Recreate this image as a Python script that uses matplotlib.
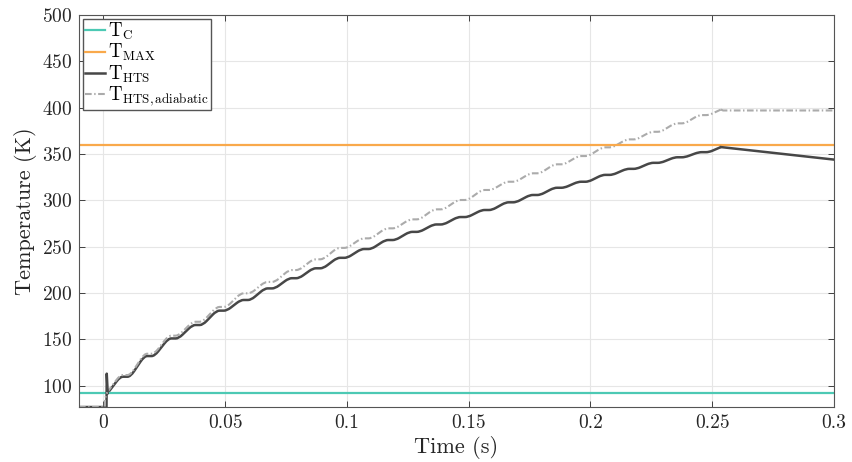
import matplotlib
matplotlib.use("Agg")
import matplotlib.pyplot as plt
from matplotlib.path import Path
from matplotlib.patches import PathPatch
from matplotlib.lines import Line2D

# plateau centres of the stepped heating (s) and temperature on each plateau (K)
t_steps = [0.009, 0.0189, 0.0288, 0.0387, 0.0486, 0.0585, 0.0684, 0.0783, 0.0882,
           0.0981, 0.108, 0.1179, 0.1278, 0.1377, 0.1476, 0.1575, 0.1674, 0.1773,
           0.1872, 0.1971, 0.207, 0.2169, 0.2268, 0.2367, 0.2466]
T_hts_steps = [109.7, 132, 151, 165.5, 181, 192.5, 205, 216, 226.7, 238,
               247.5, 257.2, 266, 274, 282, 289.6, 297.9, 305.8, 313.6, 320.1,
               327.5, 334, 340.5, 346.5, 352]
T_adi_steps = [111.5, 134.5, 154, 169, 185, 199.7, 212, 224.8, 236.4, 248.7,
               259, 269.8, 279.5, 290.3, 300.4, 311.2, 320.1, 329.2, 338.9, 347.8,
               357.2, 365.8, 374, 383.1, 392]

# before the fault, the peak when the current is cut, and the cool-down
t_hts_start = [-0.01, 0.0013, 0.0014, 0.0018]
T_hts_start = [77, 77, 113, 92]
t_hts_end = [0.2536, 0.3]
T_hts_end = [357.5, 344]

t_adi_start = [-0.01, 0.0006, 0.0007, 0.0016]
T_adi_start = [77, 77, 86, 93]
t_adi_end = [0.2536, 0.2545, 0.3]
T_adi_end = [398, 397, 397]

T_C = 92
T_MAX = 360

x_ticks = [0, 0.05, 0.1, 0.15, 0.2, 0.25, 0.3]
x_tick_labels = ["0", "0.05", "0.1", "0.15", "0.2", "0.25", "0.3"]
y_ticks = [100, 150, 200, 250, 300, 350, 400, 450, 500]

plt.rcParams["font.family"] = "serif"
plt.rcParams["font.serif"] = ["cmr10"]
plt.rcParams["mathtext.fontset"] = "cm"
plt.rcParams["axes.formatter.use_mathtext"] = True

C_TC = "#4cc9b4"
C_TMAX = "#f9a94b"
C_HTS = "#474747"
C_ADI = "#ababab"
DASH = (0, (3.2, 1.2, 0.7, 1.2))


def wave_path(t0, T0, centres, levels, t_peak, T_peak, half=0.0021, r=0.28):
    """Plateaus joined by rises, with the corners rounded by quadratic curves."""
    pts = [(t0, T0)]
    for c, v in zip(centres, levels):
        pts += [(c - half, v), (c + half, v)]
    pts.append((t_peak, T_peak))
    verts = [pts[0]]
    codes = [Path.MOVETO]
    for i in range(1, len(pts) - 1):
        (xa, ya), (xb, yb), (xc, yc) = pts[i - 1], pts[i], pts[i + 1]
        m0 = (xb + r * (xa - xb), yb + r * (ya - yb))
        m1 = (xb + r * (xc - xb), yb + r * (yc - yb))
        verts += [m0, pts[i], m1]
        codes += [Path.LINETO, Path.CURVE3, Path.CURVE3]
    verts.append(pts[-1])
    codes.append(Path.LINETO)
    return Path(verts, codes)


fig = plt.figure(figsize=(8.53, 4.62), dpi=100)
ax = fig.add_axes([0.0926, 0.119, 0.885, 0.8485])

xlim = (-0.01, 0.3)
ax.plot(xlim, [T_C, T_C], color=C_TC, linewidth=1.6)
ax.plot(xlim, [T_MAX, T_MAX], color=C_TMAX, linewidth=1.6)

# T_HTS: sharp start spike, smooth stepped rise, linear cool-down
ax.plot(t_hts_start, T_hts_start, color=C_HTS, linewidth=1.8)
ax.add_patch(PathPatch(wave_path(t_hts_start[-1], T_hts_start[-1], t_steps, T_hts_steps,
                                 t_hts_end[0], T_hts_end[0]),
                       fill=False, edgecolor=C_HTS, linewidth=1.8, joinstyle="round",
                       transform=ax.transData))
ax.plot(t_hts_end, T_hts_end, color=C_HTS, linewidth=1.8)

# adiabatic case
ax.plot(t_adi_start, T_adi_start, color=C_ADI, linewidth=1.5, linestyle=DASH)
ax.add_patch(PathPatch(wave_path(t_adi_start[-1], T_adi_start[-1], t_steps, T_adi_steps,
                                 t_adi_end[0], T_adi_end[0]),
                       fill=False, edgecolor=C_ADI, linewidth=1.5, linestyle=DASH,
                       transform=ax.transData))
ax.plot(t_adi_end, T_adi_end, color=C_ADI, linewidth=1.5, linestyle=DASH)

ax.set_xlim(*xlim)
ax.set_ylim(77, 500)
ax.set_xticks(x_ticks)
ax.set_xticklabels(x_tick_labels)
ax.set_yticks(y_ticks)
ax.tick_params(direction="in", top=True, right=True, length=4, width=0.6,
               labelsize=14, colors="#262626", pad=5)
ax.grid(True, color="#e6e6e6", linewidth=0.8)
ax.set_axisbelow(True)
for spine in ax.spines.values():
    spine.set_edgecolor("#555555")
    spine.set_linewidth(0.8)

ax.set_xlabel("Time (s)", fontsize=16, color="#262626", labelpad=3)
ax.set_ylabel("Temperature (K)", fontsize=16, color="#262626", labelpad=3)

handles = [
    Line2D([], [], color=C_TC, linewidth=1.6),
    Line2D([], [], color=C_TMAX, linewidth=1.6),
    Line2D([], [], color=C_HTS, linewidth=1.8),
    Line2D([], [], color=C_ADI, linewidth=1.5, linestyle=DASH),
]
labels = [r"$\mathrm{T_C}$", r"$\mathrm{T_{MAX}}$", r"$\mathrm{T_{HTS}}$",
          r"$\mathrm{T_{HTS,adiabatic}}$"]
ax.legend(handles, labels, loc="upper left", bbox_to_anchor=(0.005, 0.99),
          borderaxespad=0, fontsize=13.5, fancybox=False, edgecolor="#555555",
          framealpha=1, handlelength=1.1, handletextpad=0.15, labelspacing=0.0,
          borderpad=0.1)

fig.savefig("out.png", dpi=100)
